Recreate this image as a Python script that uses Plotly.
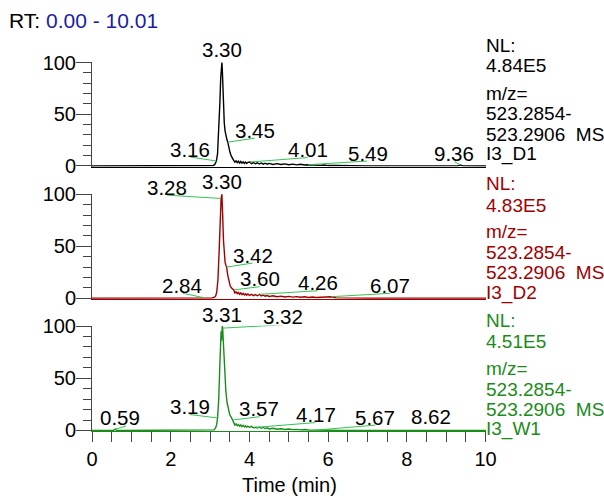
import plotly.graph_objects as go

# ---------------- data ----------------
t1 = [0.00, 1.00, 2.00, 3.00, 3.08, 3.12, 3.16, 3.19, 3.22, 3.25, 3.27, 3.28, 3.30, 3.31, 3.32,
      3.34, 3.36, 3.38, 3.40, 3.43, 3.45, 3.48, 3.51, 3.54, 3.57, 3.60, 3.63, 3.66, 3.69, 3.72,
      3.75, 3.78, 3.81, 3.84, 3.87, 3.90, 3.93, 3.96, 4.01, 4.05, 4.10, 4.15, 4.20, 4.25, 4.30,
      4.35, 4.40, 4.45, 4.50, 4.60, 4.70, 4.80, 4.90, 5.00, 5.10, 5.20, 5.30, 5.40, 5.49, 5.60,
      5.70, 5.80, 5.90, 6.00, 6.20, 6.40, 6.60, 7.00, 8.00, 9.30, 9.36, 9.42, 10.01]
v1 = [0, 0, 0, 0.1, 0.4, 1.5, 4.8, 12, 32, 62, 85, 93, 100, 94, 82,
      58, 42, 34, 29, 25, 23, 17, 12.5, 9.5, 7, 5.5, 3.8, 5.0, 3.2, 4.6,
      2.9, 4.3, 2.7, 4.0, 2.5, 3.7, 2.4, 3.5, 3.8, 2.3, 3.3, 2.1, 3.1, 1.9, 2.9,
      1.8, 2.7, 1.7, 2.5, 1.5, 2.3, 1.4, 2.0, 1.2, 1.8, 1.1, 1.6, 0.9, 1.2, 0.8,
      1.1, 0.6, 0.9, 0.4, 0.5, 0.2, 0.3, 0.1, 0.05, 0.1, 1.0, 0.1, 0]

t2 = [0.00, 1.00, 2.00, 2.70, 2.84, 2.95, 3.05, 3.10, 3.14, 3.17, 3.20, 3.23, 3.26, 3.28, 3.30,
      3.31, 3.32, 3.34, 3.36, 3.38, 3.40, 3.42, 3.45, 3.48, 3.51, 3.54, 3.57, 3.60, 3.63, 3.66,
      3.69, 3.72, 3.75, 3.78, 3.81, 3.84, 3.87, 3.90, 3.93, 3.96, 4.00, 4.05, 4.10, 4.15, 4.20,
      4.26, 4.30, 4.35, 4.40, 4.45, 4.50, 4.60, 4.70, 4.80, 4.90, 5.00, 5.10, 5.20, 5.30, 5.40,
      5.50, 5.60, 5.70, 5.80, 5.90, 6.07, 6.20, 6.40, 7.00, 8.00, 10.01]
v2 = [0, 0, 0, 0.1, 0.6, 0.2, 0.3, 0.8, 2, 6, 18, 45, 80, 96, 100,
      93, 80, 56, 42, 35, 32, 30, 22, 16, 12, 10, 9, 8, 5.0, 6.2,
      4.4, 5.6, 3.9, 5.2, 3.5, 4.8, 3.2, 4.4, 3.0, 4.1, 2.8, 3.8, 2.6, 3.5, 2.4,
      3.8, 2.2, 3.0, 2.0, 2.7, 1.8, 2.4, 1.5, 2.1, 1.3, 1.8, 1.1, 1.6, 1.0, 1.4,
      0.8, 1.2, 0.7, 1.0, 0.6, 1.5, 0.4, 0.2, 0.1, 0, 0]

t3 = [0.00, 0.50, 0.55, 0.59, 0.63, 0.70, 2.00, 3.05, 3.10, 3.14, 3.17, 3.19, 3.22, 3.25, 3.27,
      3.28, 3.29, 3.30, 3.31, 3.32, 3.33, 3.35, 3.37, 3.40, 3.43, 3.46, 3.50, 3.54, 3.57, 3.60,
      3.63, 3.66, 3.69, 3.72, 3.75, 3.78, 3.81, 3.84, 3.87, 3.90, 3.93, 3.96, 4.00, 4.05, 4.10,
      4.17, 4.20, 4.25, 4.30, 4.35, 4.40, 4.45, 4.50, 4.60, 4.70, 4.80, 4.90, 5.00, 5.10, 5.20,
      5.30, 5.40, 5.50, 5.67, 5.80, 6.00, 6.30, 7.00, 8.00, 8.62, 9.00, 10.01]
v3 = [0, 0, 0.1, 1.2, 0.1, 0, 0, 0.1, 0.6, 2.5, 6, 12, 30, 65, 88,
      95, 86, 94, 100, 98, 90, 74, 55, 38, 27, 20, 15, 12.5, 10, 7.5,
      5.2, 6.3, 4.6, 5.7, 4.1, 5.3, 3.7, 4.9, 3.4, 4.5, 3.1, 4.2, 2.9, 3.9, 2.7,
      3.0, 2.4, 3.3, 2.1, 2.9, 1.8, 2.5, 1.5, 2.1, 1.2, 1.7, 1.0, 1.4, 0.8, 1.1,
      0.6, 0.9, 0.4, 0.3, 0.5, 0.2, 0.1, 0.05, 0, 0.2, 0, 0]

peaks1 = [3.16, 3.30, 3.45, 4.01, 5.49, 9.36]
peaks2 = [3.28, 3.30, 3.42, 3.60, 2.84, 4.26, 6.07]
peaks3 = [3.31, 3.32, 3.19, 3.57, 0.59, 4.17, 5.67, 8.62]

info1 = ["NL:", "4.84E5", "m/z=", "523.2854-", "523.2906&nbsp; MS", "I3_D1"]
info2 = ["NL:", "4.83E5", "m/z=", "523.2854-", "523.2906&nbsp; MS", "I3_D2"]
info3 = ["NL:", "4.51E5", "m/z=", "523.2854-", "523.2906&nbsp; MS", "I3_W1"]

x_ticks = [0, 2, 4, 6, 8, 10]
y_ticks = [0, 50, 100]

for a, b in [(t1, v1), (t2, v2), (t3, v3)]:
    assert len(a) == len(b), (len(a), len(b))

# ---------------- layout constants ----------------
FONT = "Liberation Sans, Arial, sans-serif"
W, H = 604, 496
L, R, T, B = 92, 118, 62, 65
PW, PH = W - L - R, H - T - B
# pixel top/bottom of each panel
panel_px = [(62.0, 166.5), (193.8, 298.8), (325.5, 431.0)]
colors = ["#000000", "#a00000", "#1a8c1a"]
leader_color = "#33c353"
axis_grey = "#454545"

# leader offsets (dx, dy in px, None = no leader) and label lift above leader end
label_style = [
    [(-26, 4), None, (27, 4), (58, 4.5), (59, 3.7), (-6, 3.3)],
    [(-54, 3.3), None, (26, 4), (26, 3.3), (-21, 4.4), (58, 3.6), (59, 3.4)],
    [None, (60, 3.3), (-27.7, 3.4), (27, 3.3), (11, 3.3), (59, 4.7), (60, 5), None],
]
no_leader_lift = [[None, 13], [None, 13], [12, None, None, None, None, None, None, 14]]
label_xfix = [[0, 0, 0, 0, 1, 0], [0, 0, 0, 0, -1, 0, 0], [0, 0, 0, -1, -6, 1, 0, 0]]
info_centers = [
    [45.8, 65.8, 93.5, 113.3, 134.2, 154.2],
    [183.3, 205, 231.7, 252.5, 272.5, 292.5],
    [320, 341.7, 368.3, 389.2, 409.2, 429.2],
]


def py2paper(py):
    return (H - B - py) / PH


def dom(py):
    return min(1.0, max(0.0, py2paper(py)))


def px2paper(px):
    return (px - L) / PW


fig = go.Figure()
series = [(t1, v1), (t2, v2), (t3, v3)]
peaks = [peaks1, peaks2, peaks3]
infos = [info1, info2, info3]
annotations = []
shapes = []

for i, ((tt, vv), col) in enumerate(zip(series, colors)):
    n = i + 1
    xa = "x" if n == 1 else f"x{n}"
    ya = "y" if n == 1 else f"y{n}"
    fig.add_trace(go.Scatter(x=tt, y=vv, mode="lines", xaxis=xa, yaxis=ya,
                             line=dict(color=col, width=1.4), hoverinfo="skip",
                             showlegend=False))
    top, bot = panel_px[i]
    bottom_panel = (n == 3)
    xdict = dict(
        domain=[0, 1], anchor=ya, range=[0, 10.01], showgrid=False, zeroline=False,
        showline=True, linecolor=col, linewidth=1, layer="below traces",
        tickvals=x_ticks if bottom_panel else [],
        showticklabels=bottom_panel,
        ticks="outside" if bottom_panel else "", ticklen=10, tickcolor=axis_grey, tickwidth=1,
        minor=dict(dtick=0.5, tick0=0, ticks="outside" if bottom_panel else "",
                   ticklen=10, tickcolor=axis_grey, tickwidth=1),
        tickfont=dict(family=FONT, size=20, color="black"),
    )
    if n > 1:
        xdict["matches"] = "x"
    fig.layout[f"xaxis{'' if n == 1 else n}"] = xdict
    fig.layout[f"yaxis{'' if n == 1 else n}"] = dict(
        domain=[dom(bot), dom(top)], anchor=xa, range=[-0.5, 100.5],
        showgrid=False, zeroline=False, showline=True, linecolor=axis_grey, linewidth=1,
        tickvals=y_ticks, ticks="outside", ticklen=15, tickcolor=axis_grey, tickwidth=1,
        ticklabelstandoff=-4,
        minor=dict(dtick=10, tick0=0, ticks="outside", ticklen=8, tickcolor=axis_grey,
                   tickwidth=1),
        tickfont=dict(family=FONT, size=20, color="black"),
    )

    # peak labels with leader lines
    for j, rt in enumerate(peaks[i]):
        inten = vv[tt.index(rt)]
        st = label_style[i][j]
        if st is None:
            dx, dy = 0, 0
            lift = no_leader_lift[i][j]
        else:
            dx, dy = st
            lift = 8
            shapes.append(dict(type="line", xref=xa, yref=ya, xsizemode="pixel",
                               ysizemode="pixel", xanchor=rt, yanchor=inten,
                               x0=0, y0=0, x1=dx, y1=dy,
                               line=dict(color=leader_color, width=1)))
        annotations.append(dict(x=rt, y=inten, xref=xa, yref=ya, text=f"{rt:.2f}",
                                showarrow=False, xanchor="center", yanchor="middle",
                                xshift=dx + label_xfix[i][j], yshift=dy + lift,
                                font=dict(family=FONT, size=20.5, color="black")))

    # right-side info text
    for txt, cy in zip(infos[i], info_centers[i]):
        annotations.append(dict(x=1, y=py2paper(cy), xref="paper", yref="paper", text=txt,
                                showarrow=False, xanchor="left", yanchor="middle",
                                xshift=-2, font=dict(family=FONT, size=19, color=col)))

# title and axis title
annotations.append(dict(x=px2paper(7), y=py2paper(20), xref="paper", yref="paper",
                        text="RT: <span style='color:#1c1ca6'>0.00 - 10.01</span>",
                        showarrow=False, xanchor="left", yanchor="middle",
                        font=dict(family=FONT, size=21, color="black")))
annotations.append(dict(x=0.5, y=py2paper(485), xref="paper", yref="paper",
                        text="Time (min)", showarrow=False, xanchor="center",
                        yanchor="middle", font=dict(family=FONT, size=20, color="black")))

fig.update_layout(width=W, height=H, margin=dict(l=L, r=R, t=T, b=B, pad=0),
                  paper_bgcolor="white", plot_bgcolor="white",
                  annotations=annotations, shapes=shapes,
                  font=dict(family=FONT, size=20, color="black"))

fig.write_html("out.html")
